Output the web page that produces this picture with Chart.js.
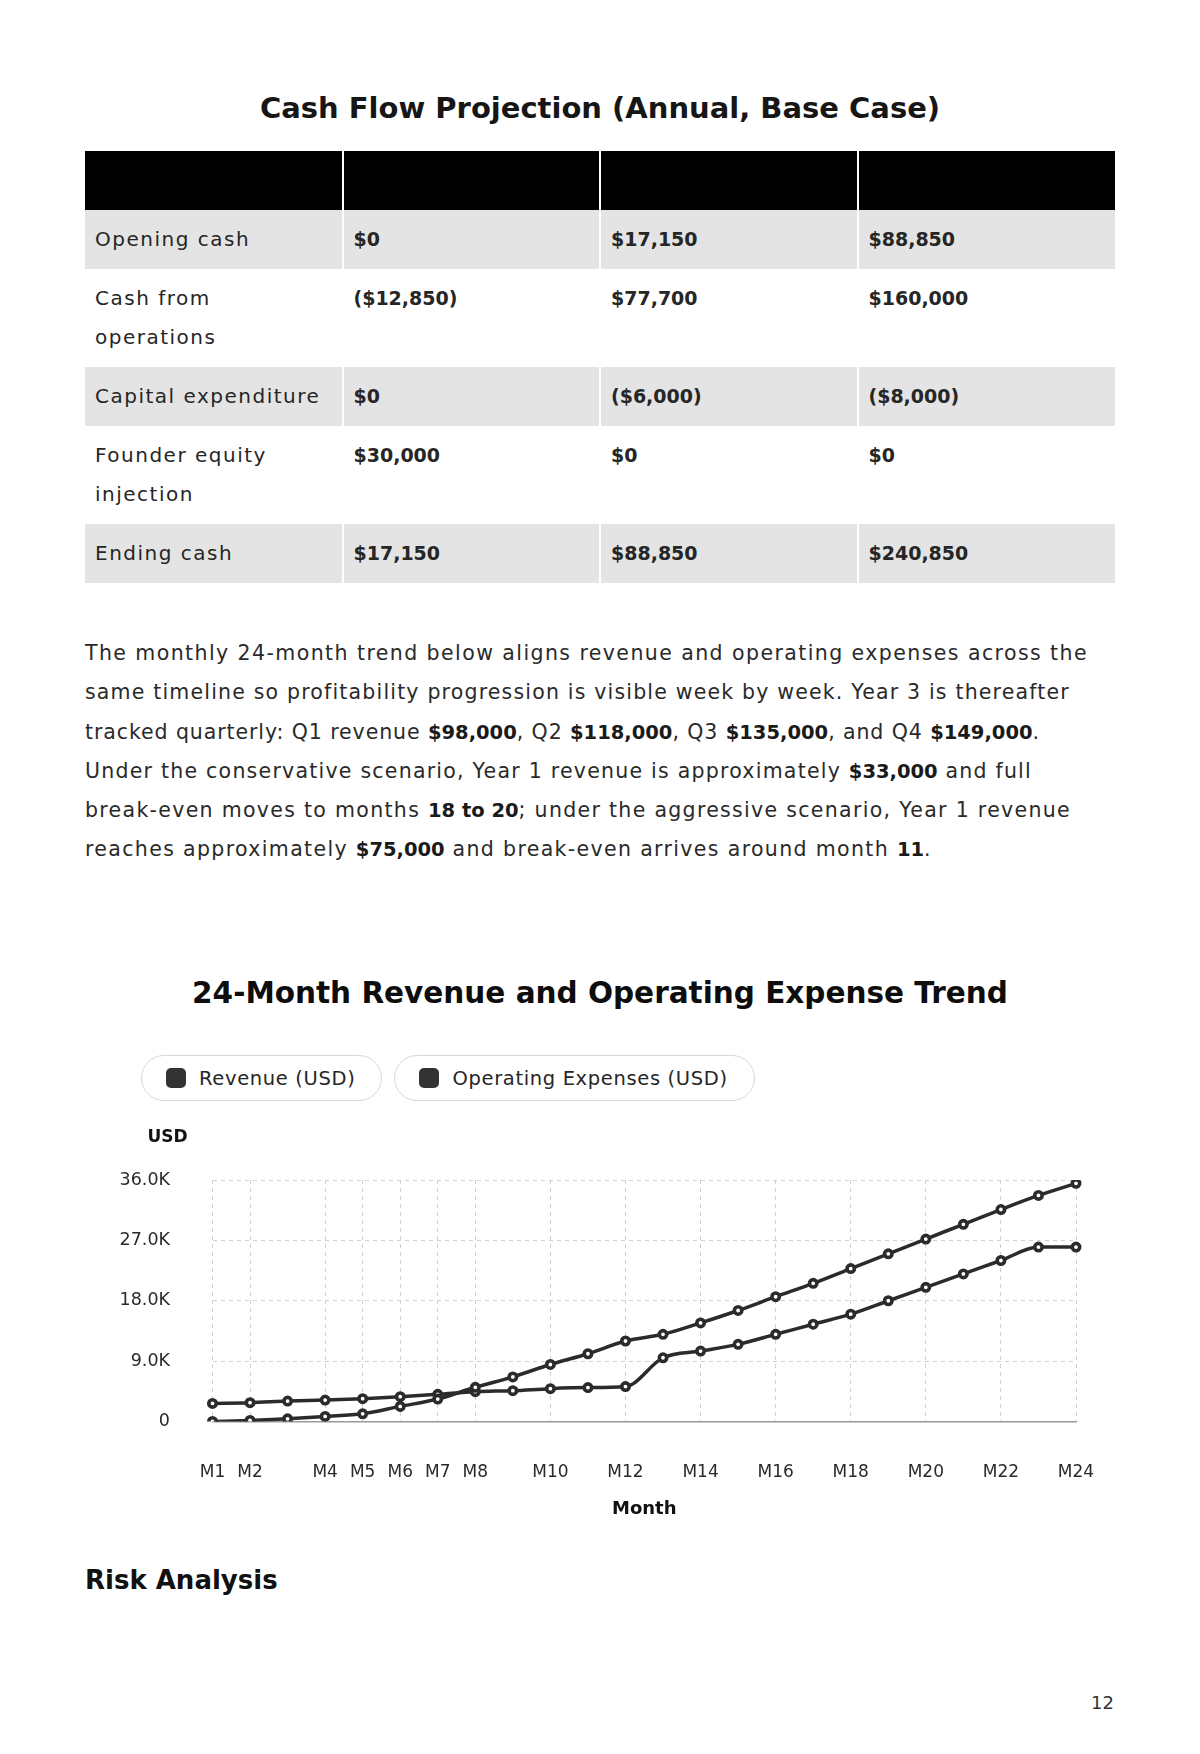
<!DOCTYPE html>
<html>
<head>
<meta charset="utf-8">
<title>Cash Flow Projection</title>
<script src="https://cdn.jsdelivr.net/npm/chart.js@4.4.1/dist/chart.umd.min.js"></script>
<style>
  body { margin: 0; background: #fff; font-family: 'DejaVu Sans', sans-serif; color: #262626; }
  .page { position: relative; width: 1200px; height: 1754px; overflow: hidden; }
  .title { position: absolute; left: 0; width: 1200px; top: 88px; line-height: 40px; text-align: center;
           font-size: 29px; font-weight: bold; color: #161616; }
  table { position: absolute; left: 85px; top: 151px; width: 1030px; border-collapse: collapse;
          table-layout: fixed; font-size: 20px; letter-spacing: 1.5px; }
  th { background: #000; height: 59px; padding: 0; border-left: 2px solid #fff; }
  th:first-child, td:first-child { border-left: none; }
  td { padding: 10px 10px; line-height: 39px; vertical-align: top; border-left: 2px solid #fff; }
  tr.shade td { background: #e4e4e4; }
  td.v { font-weight: bold; font-size: 19px; letter-spacing: 0; }
  .para { position: absolute; left: 85px; top: 634px; font-size: 20.5px; line-height: 39.3px;
          white-space: nowrap; color: #2a2a2a; }
  .para .ln span { display: inline-block; }
  .para b { color: #1a1a1a; font-size: 19.5px; letter-spacing: 0; }
  .chart-title { position: absolute; left: 0; width: 1200px; top: 973px; line-height: 40px; text-align: center;
                 font-size: 29.5px; font-weight: bold; color: #0d0d0d; }
  #legend { position: absolute; left: 141px; top: 1055px; display: flex; gap: 12px; }
  .pill { height: 44px; border: 1.5px solid #d4d9e0; border-radius: 24px; display: flex; align-items: center;
          padding: 0 26px 0 24px; font-size: 19.5px; letter-spacing: 0.65px; color: #262626; }
  .pill i { width: 20px; height: 20px; border-radius: 5px; background: #333; margin-right: 13px; }
  .chart-box { position: absolute; left: 85px; top: 1110px; width: 1030px; height: 430px; }
  .risk { position: absolute; left: 85px; top: 1562px; line-height: 36px; font-size: 26px; font-weight: bold; color: #111; }
  .pagenum { position: absolute; right: 86px; top: 1692px; line-height: 22px; font-size: 18px; color: #333; }
</style>
</head>
<body>
<div class="page">
  <div class="title">Cash Flow Projection (Annual, Base Case)</div>
  <table>
    <tr><th>&nbsp;</th><th>&nbsp;</th><th>&nbsp;</th><th>&nbsp;</th></tr>
    <tr class="shade"><td>Opening cash</td><td class="v">$0</td><td class="v">$17,150</td><td class="v">$88,850</td></tr>
    <tr><td>Cash from<br>operations</td><td class="v">($12,850)</td><td class="v">$77,700</td><td class="v">$160,000</td></tr>
    <tr class="shade"><td>Capital expenditure</td><td class="v">$0</td><td class="v">($6,000)</td><td class="v">($8,000)</td></tr>
    <tr><td>Founder equity<br>injection</td><td class="v">$30,000</td><td class="v">$0</td><td class="v">$0</td></tr>
    <tr class="shade"><td>Ending cash</td><td class="v">$17,150</td><td class="v">$88,850</td><td class="v">$240,850</td></tr>
  </table>

  <div class="para">
    <div class="ln" data-end="1088"><span>The monthly 24-month trend below aligns revenue and operating expenses across the</span></div>
    <div class="ln" data-end="1070"><span>same timeline so profitability progression is visible week by week. Year 3 is thereafter</span></div>
    <div class="ln" data-end="1040"><span>tracked quarterly: Q1 revenue <b>$98,000</b>, Q2 <b>$118,000</b>, Q3 <b>$135,000</b>, and Q4 <b>$149,000</b>.</span></div>
    <div class="ln" data-end="1032"><span>Under the conservative scenario, Year 1 revenue is approximately <b>$33,000</b> and full</span></div>
    <div class="ln" data-end="1071"><span>break-even moves to months <b>18 to 20</b>; under the aggressive scenario, Year 1 revenue</span></div>
    <div class="ln" data-end="932"><span>reaches approximately <b>$75,000</b> and break-even arrives around month <b>11</b>.</span></div>
  </div>

  <div class="chart-title">24-Month Revenue and Operating Expense Trend</div>
  <div id="legend"></div>
  <div class="chart-box"><canvas id="trend"></canvas></div>

  <div class="risk">Risk Analysis</div>
  <div class="pagenum">12</div>
</div>

<script>
// Month labels and the ones that get a visible tick + grid line
const months = ['M1', 'M2', 'M3', 'M4', 'M5', 'M6', 'M7', 'M8', 'M9', 'M10', 'M11', 'M12',
                'M13', 'M14', 'M15', 'M16', 'M17', 'M18', 'M19', 'M20', 'M21', 'M22', 'M23', 'M24'];
const shownMonths = ['M1', 'M2', 'M4', 'M5', 'M6', 'M7', 'M8', 'M10', 'M12',
                     'M14', 'M16', 'M18', 'M20', 'M22', 'M24'];

// Values (USD)
const revenue = [0, 150, 400, 750, 1150, 2250, 3350, 5100, 6650, 8500, 10100, 12000,
                 13000, 14700, 16550, 18600, 20600, 22800, 25000, 27200, 29400, 31600, 33700, 35500];
const expenses = [2700, 2800, 3050, 3200, 3400, 3700, 4050, 4450, 4600, 4900, 5050, 5200,
                  9500, 10500, 11500, 13000, 14500, 16000, 18000, 20000, 22000, 24000, 26000, 26000];

const yTicks = [0, 9000, 18000, 27000, 36000];

const FONT = "'DejaVu Sans', sans-serif";
const INK = '#2b2b2b';

// stretch each paragraph line's plain text so it ends where the original line ends
document.querySelectorAll('.para .ln').forEach(line => {
    const span = line.querySelector('span');
    const boldChars = [...span.querySelectorAll('b')].reduce((n, b) => n + b.textContent.length, 0);
    const plainChars = span.textContent.length - boldChars;
    const target = Number(line.dataset.end) - 85;
    const natural = span.getBoundingClientRect().width;
    span.style.letterSpacing = ((target - natural) / plainChars).toFixed(3) + 'px';
});

function formatK(value) {
    return value === 0 ? '0' : (value / 1000).toFixed(1) + 'K';
}

// "USD" label sits above the y axis instead of rotated beside it
const yTitlePlugin = {
    id: 'yTitle',
    afterDraw(chart) {
        const { ctx, chartArea } = chart;
        ctx.save();
        ctx.font = 'bold 17px ' + FONT;
        ctx.fillStyle = '#111';
        ctx.textAlign = 'center';
        ctx.textBaseline = 'middle';
        ctx.fillText('USD', chartArea.left - 45, chartArea.top - 42);
        ctx.restore();
    }
};

const ctx = document.getElementById('trend').getContext('2d');
const trendChart = new Chart(ctx, {
    type: 'line',
    data: {
        labels: months,
        datasets: [
            { label: 'Revenue (USD)', data: revenue },
            { label: 'Operating Expenses (USD)', data: expenses }
        ].map(ds => Object.assign(ds, {
            borderColor: INK,
            backgroundColor: '#333',
            borderWidth: 3.5,
            cubicInterpolationMode: 'monotone',
            pointRadius: 3.7,
            pointBorderWidth: 3.6,
            pointBackgroundColor: '#fff',
            pointBorderColor: INK
        }))
    },
    options: {
        responsive: true,
        maintainAspectRatio: false,
        animation: false,
        layout: { padding: { top: 70, right: 39, bottom: 0, left: 0 } },
        scales: {
            x: {
                offset: false,
                afterFit: s => {
                    s.height = 118.5;
                    // tick padding is meant to push labels down, not squeeze the plot sideways
                    s.paddingLeft = 0;
                    s.paddingRight = 0;
                },
                grid: {
                    drawTicks: false,
                    color: c => shownMonths.includes(months[c.index]) ? '#d0d0d0' : 'rgba(0,0,0,0)'
                },
                border: { display: true, color: '#9a9a9a', width: 1.5, dash: [4, 4] },
                ticks: {
                    autoSkip: false,
                    maxRotation: 0,
                    padding: 41,
                    color: '#2a2a2a',
                    font: { family: FONT, size: 17 },
                    callback: function(value, index) {
                        return shownMonths.includes(months[index]) ? months[index] : '';
                    }
                },
                title: {
                    display: true,
                    text: 'Month',
                    color: '#111',
                    font: { family: FONT, size: 18, weight: 'bold' },
                    padding: { top: 0, bottom: 20 }
                }
            },
            y: {
                min: 0,
                max: 36000,
                afterFit: s => { s.width = 127.5; },
                afterBuildTicks: s => { s.ticks = yTicks.map(v => ({ value: v })); },
                grid: { drawTicks: false, color: '#d0d0d0' },
                border: { display: false, dash: [4, 4] },
                ticks: {
                    padding: 42.5,
                    color: '#2a2a2a',
                    font: { family: FONT, size: 17.5 },
                    callback: formatK
                }
            }
        },
        plugins: {
            legend: { display: false },
            tooltip: { enabled: false }
        }
    },
    plugins: [yTitlePlugin]
});

// Pill legend built from the chart's datasets
const legendEl = document.getElementById('legend');
trendChart.data.datasets.forEach(ds => {
    const pill = document.createElement('div');
    pill.className = 'pill';
    pill.innerHTML = '<i></i><span></span>';
    pill.querySelector('span').textContent = ds.label;
    legendEl.appendChild(pill);
});
</script>
</body>
</html>
